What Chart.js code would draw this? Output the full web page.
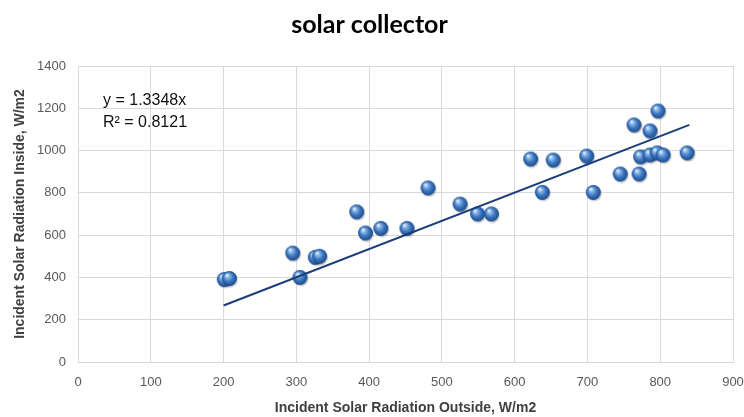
<!DOCTYPE html>
<html>
<head>
<meta charset="utf-8">
<script src="https://cdn.jsdelivr.net/npm/chart.js@4/dist/chart.umd.min.js"></script>
<style>
html,body{margin:0;padding:0;background:#fff;}
#wrap{width:744px;height:417px;position:relative;}
</style>
</head>
<body>
<div id="wrap"><canvas id="c" width="744" height="417"></canvas></div>
<script>
// Data
const xOutside = [201, 208, 295, 305, 326, 332, 383, 395, 416, 452, 481, 525, 549, 568, 622, 638, 653, 699, 708, 745, 764, 771, 773, 786, 786, 797, 796, 804, 837];
const yInside  = [390, 395, 515, 400, 495, 500, 710, 610, 632, 632, 823, 747, 700, 700, 960, 802, 955, 974, 802, 889, 1121, 889, 970, 1093, 979, 1187, 989, 979, 989];
const trendSlope = 1.3348;
const trendX = [200, 840];
const xTicks = [0, 100, 200, 300, 400, 500, 600, 700, 800, 900];
const yTicks = [0, 200, 400, 600, 800, 1000, 1200, 1400];
const chartTitle = 'solar collector';
const xTitle = 'Incident Solar Radiation Outside, W/m2';
const yTitle = 'Incident Solar Radiation Inside, W/m2';
const eqLines = ['y = 1.3348x', 'R² = 0.8121'];

const pts = xOutside.map((x, i) => ({x: x, y: yInside[i]}));
const trendPts = trendX.map(x => ({x: x, y: trendSlope * x}));

// sphere marker
function makeSphere(r) {
  const s = r * 2 + 4;
  const c = document.createElement('canvas');
  c.width = s; c.height = s;
  const g = c.getContext('2d');
  const cx = s / 2, cy = s / 2;
  g.fillStyle = 'rgba(0,0,0,0.18)';
  g.beginPath(); g.ellipse(cx + 1, cy + 1.5, r, r, 0, 0, Math.PI * 2); g.fill();
  const grad = g.createRadialGradient(cx - r * 0.35, cy - r * 0.45, 0.5, cx, cy, r * 1.05);
  grad.addColorStop(0, '#e4f0fc');
  grad.addColorStop(0.22, '#8ab6e6');
  grad.addColorStop(0.55, '#3f79c3');
  grad.addColorStop(0.85, '#24569a');
  grad.addColorStop(1, '#183e72');
  g.fillStyle = grad;
  g.beginPath(); g.arc(cx, cy, r, 0, Math.PI * 2); g.fill();
  return c;
}
const sphere = makeSphere(7.5);

const eqPlugin = {
  id: 'eq',
  afterDatasetsDraw(chart) {
    const ctx = chart.ctx, a = chart.chartArea;
    ctx.save();
    ctx.fillStyle = '#111';
    ctx.font = '16px "Liberation Sans Narrow", "Liberation Sans", sans-serif';
    ctx.textBaseline = 'middle';
    ctx.textAlign = 'left';
    ctx.fillText(eqLines[0], a.left + 25, a.top + 35);
    ctx.fillText(eqLines[1], a.left + 25, a.top + 57);
    ctx.restore();
  }
};

const PAD_L = 6, PAD_B = 0;

new Chart(document.getElementById('c'), {
  type: 'scatter',
  data: {
    datasets: [
      {
        type: 'line',
        data: trendPts,
        borderColor: '#1b3d78',
        borderWidth: 2,
        pointRadius: 0,
        fill: false,
        order: 0
      },
      {
        data: pts,
        pointStyle: sphere,
        pointRadius: 8,
        order: 1
      }
    ]
  },
  options: {
    responsive: false,
    animation: false,
    devicePixelRatio: 1,
    layout: {padding: {left: PAD_L, right: 11, top: 0, bottom: PAD_B}},
    plugins: {
      legend: {display: false},
      tooltip: {enabled: false},
      title: {
        display: true,
        text: chartTitle,
        color: '#000',
        font: {family: 'Lato, sans-serif', size: 25, weight: 'bold'},
        padding: {top: 10, bottom: 26}
      }
    },
    scales: {
      x: {
        type: 'linear',
        min: 0, max: 900,
        afterBuildTicks: s => { s.ticks = xTicks.map(v => ({value: v})); },
        afterFit: s => { s.height = 417 - 362 - PAD_B; s.paddingRight = 0; },
        grid: {color: '#d9d9d9', drawTicks: false},
        border: {color: '#d9d9d9'},
        ticks: {color: '#595959', font: {family: '"Liberation Sans", sans-serif', size: 13}, padding: 13, maxRotation: 0, callback: v => String(v)},
        title: {display: true, text: xTitle, color: '#404040', font: {family: '"Liberation Sans Narrow", "Liberation Sans", sans-serif', size: 14, weight: 'bold'}, padding: {top: 4, bottom: 0}}
      },
      y: {
        type: 'linear',
        min: 0, max: 1400,
        afterBuildTicks: s => { s.ticks = yTicks.map(v => ({value: v})); },
        afterFit: s => { s.width = 78 - PAD_L; },
        grid: {color: '#d9d9d9', drawTicks: false},
        border: {color: '#d9d9d9'},
        ticks: {color: '#595959', font: {family: '"Liberation Sans", sans-serif', size: 13}, padding: 12, callback: v => String(v)},
        title: {display: true, text: yTitle, color: '#404040', font: {family: '"Liberation Sans Narrow", "Liberation Sans", sans-serif', size: 14, weight: 'bold'}, padding: {top: 6, bottom: 0}}
      }
    }
  },
  plugins: [eqPlugin]
});
</script>
</body>
</html>
